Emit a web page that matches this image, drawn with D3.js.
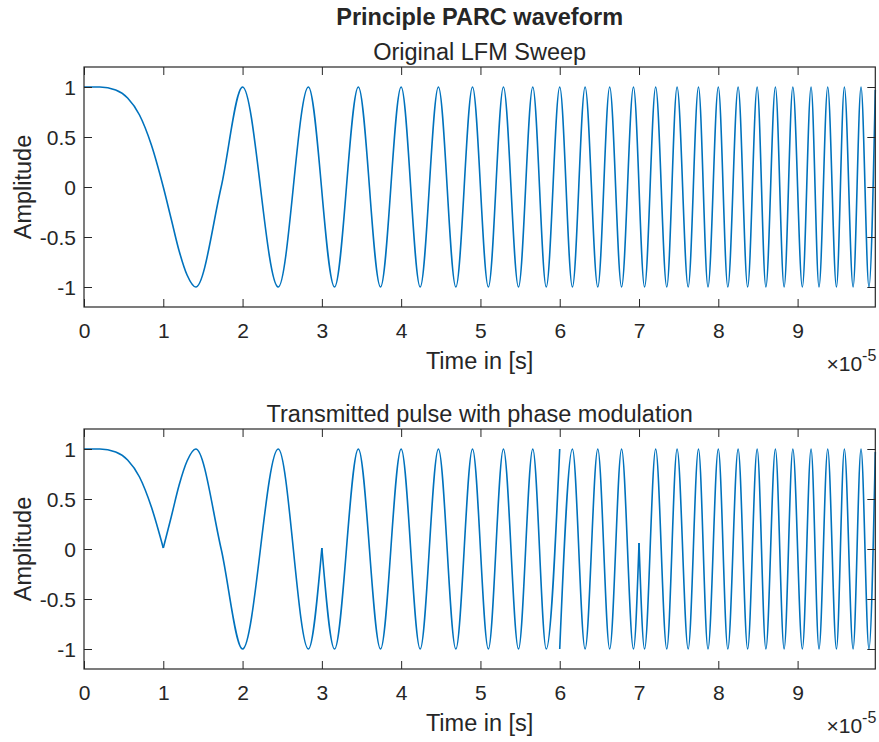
<!DOCTYPE html>
<html>
<head>
<meta charset="utf-8">
<style>
  body { margin: 0; background: #fff; }
  svg { display: block; }
  text { font-family: "Liberation Sans", Arial, sans-serif; fill: #262626; }
  .tick line { stroke: #262626; }
  .tick text { font-size: 21px; }
</style>
</head>
<body>
<svg width="879" height="742"></svg>
<script src="https://d3js.org/d3.v7.min.js"></script>
<script>
// x values are in units of 1e-5 s
const xTicks = [0, 1, 2, 3, 4, 5, 6, 7, 8, 9]
const yTicks = [-1, -0.5, 0, 0.5, 1]

// original LFM sweep: readings of start, extremes and a few crossings
const sweepTime = [0, 0.2, 0.4, 0.55, 0.7, 0.85, 1.0, 1.1, 1.2, 1.3, 1.41, 1.73, 2.0, 2.45, 2.83, 3.16, 3.46, 3.74, 4.0,
  4.24, 4.47, 4.69, 4.9, 5.1, 5.29, 5.48, 5.66, 5.83, 6.0, 6.16, 6.32, 6.48, 6.63, 6.78, 6.93,
  7.07, 7.21, 7.35, 7.48, 7.62, 7.75, 7.87, 8.0, 8.12, 8.25, 8.37, 8.49, 8.6, 8.72, 8.83, 8.94,
  9.06, 9.17, 9.27, 9.38, 9.49, 9.59, 9.7, 9.8, 9.9, 9.98]
const sweepAmp = [1, 1, 0.97, 0.89, 0.72, 0.42, 0, -0.32, -0.64, -0.88, -1, 0, 1, -1, 1, -1, 1, -1, 1,
  -1, 1, -1, 1, -1, 1, -1, 1, -1, 1, -1, 1, -1, 1, -1, 1,
  -1, 1, -1, 1, -1, 1, -1, 1, -1, 1, -1, 1, -1, 1, -1, 1,
  -1, 1, -1, 1, -1, 1, -1, 1, -1, 0.97]

// phase modulated pulse: a repeated time marks a phase jump (new piece)
const pulseTime = [0, 0.2, 0.4, 0.55, 0.7, 0.85, 1.0, 1.0, 1.1, 1.2, 1.3, 1.41, 1.73, 2.0, 2.45, 2.83, 3.0, 3.0, 3.16, 3.46,
  3.74, 4.0, 4.24, 4.47, 4.69, 4.9, 5.1, 5.29, 5.48, 5.66, 5.83, 6.0, 6.0, 6.16, 6.32, 6.48,
  6.63, 6.78, 6.93, 7.0, 7.0, 7.07, 7.21, 7.35, 7.48, 7.62, 7.75, 7.87, 8.0, 8.12, 8.25, 8.37,
  8.49, 8.6, 8.72, 8.83, 8.94, 9.06, 9.17, 9.27, 9.38, 9.49, 9.59, 9.7, 9.8, 9.9, 9.98]
const pulseAmp = [1, 1, 0.97, 0.89, 0.72, 0.42, 0.01, 0.01, 0.32, 0.64, 0.88, 1, 0, -1, 1, -1, 0.01, 0.01, -1, 1,
  -1, 1, -1, 1, -1, 1, -1, 1, -1, 1, -1, 1, -1, 1, -1, 1,
  -1, 1, -1, 0.06, 0.06, -1, 1, -1, 1, -1, 1, -1, 1, -1, 1, -1,
  1, -1, 1, -1, 1, -1, 1, -1, 1, -1, 1, -1, 1, -1, 0.97]

const mainTitle = "Principle PARC waveform"
const panelTitles = ["Original LFM Sweep", "Transmitted pulse with phase modulation"]

let svg = d3.select("svg")
let left = 84, right = 875.3
let panels = [{top: 67, bottom: 307}, {top: 429, bottom: 669}]

let x = d3.scaleLinear().domain([0, 9.98]).range([left, right])

function pieces(ts, as) {
  let out = [[]]
  ts.forEach((t, i) => {
    if (i > 0 && t === ts[i - 1]) out.push([])
    out[out.length - 1].push([t, as[i]])
  })
  return out
}

svg.append("text")
  .attr("x", (left + right) / 2).attr("y", 25)
  .attr("text-anchor", "middle")
  .style("font-size", "23.5px").style("font-weight", "bold")
  .text(mainTitle)

let series = [pieces(sweepTime, sweepAmp), pieces(pulseTime, pulseAmp)]

panels.forEach((p, k) => {
  let y = d3.scaleLinear().domain([-1.2, 1.2]).range([p.bottom, p.top])
  let g = svg.append("g")

  let line = d3.line()
    .x(d => x(d[0]))
    .y(d => y(d[1]))
    .curve(d3.curveMonotoneX)

  g.selectAll(".wave")
    .data(series[k])
    .join("path")
    .attr("class", "wave")
    .attr("d", line)
    .attr("fill", "none")
    .attr("stroke", "#0072BD")
    .attr("stroke-width", 1.6)
    .attr("stroke-linejoin", "round")

  // axes, ticks pointing inward
  let xb = g.append("g").attr("transform", `translate(0,${p.bottom})`)
    .call(d3.axisBottom(x).tickValues(xTicks).tickSizeInner(-8).tickSizeOuter(0).tickFormat(d3.format("d")))
  xb.selectAll("text").attr("y", 31).attr("dy", null)

  let yl = g.append("g").attr("transform", `translate(${left},0)`)
    .call(d3.axisLeft(y).tickValues(yTicks).tickSizeInner(-8).tickSizeOuter(0).tickFormat(d => String(d)))
  yl.selectAll("text").attr("x", -8).attr("dy", "0.36em")

  g.append("g").attr("transform", `translate(0,${p.top})`)
    .call(d3.axisTop(x).tickValues(xTicks).tickSizeInner(-8).tickSizeOuter(0).tickFormat(""))
  g.append("g").attr("transform", `translate(${right},0)`)
    .call(d3.axisRight(y).tickValues(yTicks).tickSizeInner(-8).tickSizeOuter(0).tickFormat(""))

  g.selectAll(".domain").remove()
  g.append("rect")
    .attr("x", left).attr("y", p.top)
    .attr("width", right - left).attr("height", p.bottom - p.top)
    .attr("fill", "none").attr("stroke", "#262626").attr("stroke-width", 1.2)

  // labels
  g.append("text")
    .attr("x", (left + right) / 2).attr("y", p.top - 7)
    .attr("text-anchor", "middle")
    .style("font-size", "23.5px")
    .text(panelTitles[k])

  g.append("text")
    .attr("x", (left + right) / 2).attr("y", p.bottom + 62)
    .attr("text-anchor", "middle")
    .style("font-size", "23.5px")
    .text("Time in [s]")

  g.append("text")
    .attr("transform", `translate(31,${(p.top + p.bottom) / 2}) rotate(-90)`)
    .attr("text-anchor", "middle")
    .style("font-size", "23.5px")
    .text("Amplitude")

  let ex = g.append("text")
    .attr("x", right + 1).attr("y", p.bottom + 64)
    .attr("text-anchor", "end")
    .style("font-size", "21px")
  ex.append("tspan").text("\u00d710")
  ex.append("tspan").attr("dy", -10).style("font-size", "16px").text("-5")
})
</script>
</body>
</html>
